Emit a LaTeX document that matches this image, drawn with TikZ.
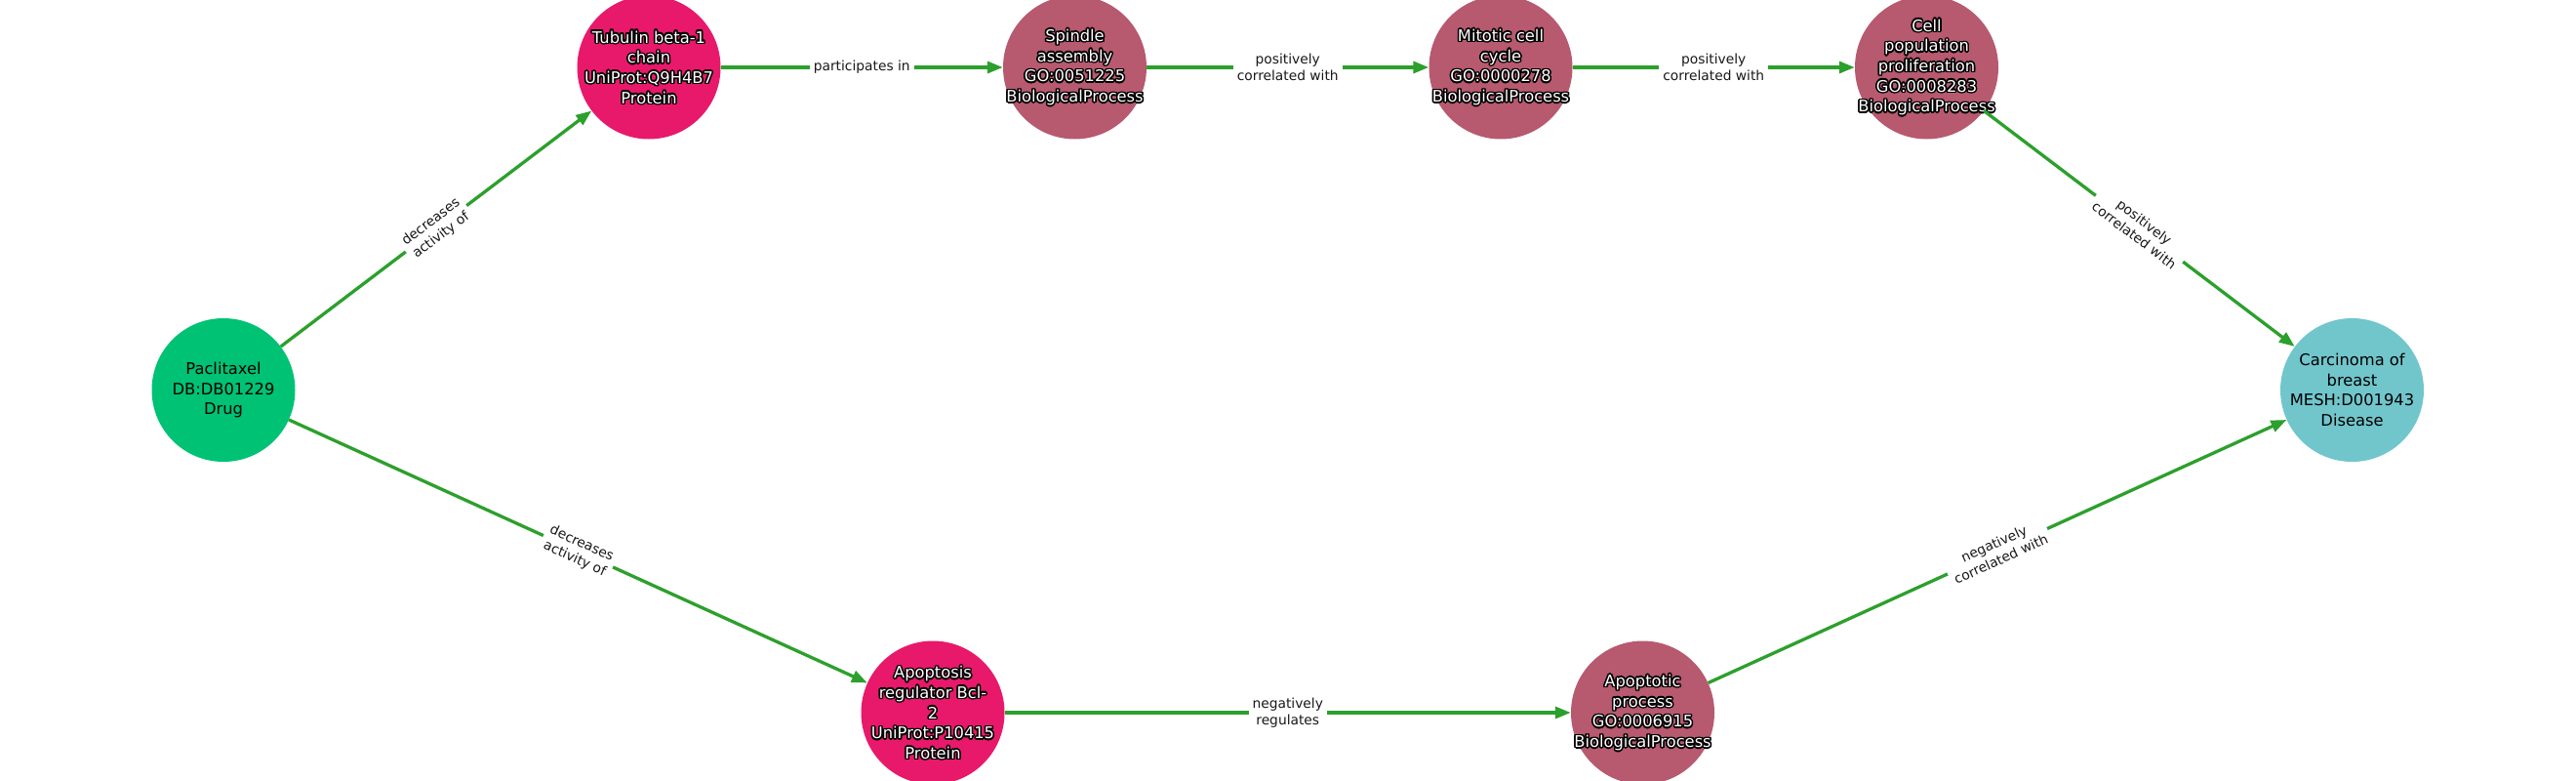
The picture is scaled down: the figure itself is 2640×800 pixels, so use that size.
\documentclass[tikz,border=0pt]{standalone}
\usepackage{fontspec}
\setmainfont{DejaVu Sans}
\usetikzlibrary{arrows.meta,calc}
\definecolor{drugc}{HTML}{00C274}
\definecolor{protc}{HTML}{E8196A}
\definecolor{bpc}{HTML}{B7596F}
\definecolor{disc}{HTML}{71C6CC}
\definecolor{edgec}{HTML}{2CA02C}
\tikzset{
  ent/.style={circle, minimum size=147pt, inner sep=0pt, draw=none},
  drug/.style={ent, fill=drugc},
  prot/.style={ent, fill=protc},
  bproc/.style={ent, fill=bpc},
  dis/.style={ent, fill=disc},
  ntext/.style={align=center, font=\fontsize{16.3}{20.7}\selectfont, inner sep=0pt},
  rel/.style={draw=edgec, line width=3.3pt, -{Triangle[length=16pt,width=12pt]}},
  elabel/.style={fill=white, inner sep=4pt, align=center, font=\fontsize{13.8}{17.2}\selectfont, text=black!90},
}
\newcommand\olabel[2]{%
  \foreach \a in {0,22.5,...,337.5}{\node[ntext,text=black] at ($(#1)+(\a:1.5)$) {#2};}
  \node[ntext,text=white] at (#1) {#2};}
\begin{document}
\begin{tikzpicture}[x=1pt,y=-1pt]
\useasboundingbox (0,0) rectangle (2640,800);
\clip (0,0) rectangle (2640,800);
% nodes
\node[drug] (pac) at (229,399.5) {};
\node[ntext] at (pac) {Paclitaxel\\DB:DB01229\\Drug};
\node[prot] (tub) at (665,69) {};
\node[bproc] (spi) at (1101.5,69) {};
\node[bproc] (mit) at (1538,69) {};
\node[bproc] (cel) at (1974.5,69) {};
\node[dis] (car) at (2410.5,399.5) {};
\node[ntext] at (car) {Carcinoma of\\breast\\MESH:D001943\\Disease};
\node[prot] (bcl) at (956,730) {};
\node[bproc] (apo) at (1683.5,730) {};
% outlined labels
\olabel{tub}{Tubulin beta-1\\chain\\UniProt:Q9H4B7\\Protein}
\olabel{spi}{Spindle\\assembly\\GO:0051225\\BiologicalProcess}
\olabel{mit}{Mitotic cell\\cycle\\GO:0000278\\BiologicalProcess}
\olabel{cel}{Cell\\population\\proliferation\\GO:0008283\\BiologicalProcess}
\olabel{bcl}{Apoptosis\\regulator Bcl-\\2\\UniProt:P10415\\Protein}
\olabel{apo}{Apoptotic\\process\\GO:0006915\\BiologicalProcess}
% edges
\draw[rel] (pac) -- node[elabel, sloped] {decreases\\activity of} (tub);
\draw[rel] (tub) -- node[elabel] {participates in} (spi);
\draw[rel] (spi) -- node[elabel] {positively\\correlated with} (mit);
\draw[rel] (mit) -- node[elabel] {positively\\correlated with} (cel);
\draw[rel] (cel) -- node[elabel, sloped] {positively\\correlated with} (car);
\draw[rel] (pac) -- node[elabel, sloped] {decreases\\activity of} (bcl);
\draw[rel] (bcl) -- node[elabel] {negatively\\regulates} (apo);
\draw[rel] (apo) -- node[elabel, sloped] {negatively\\correlated with} (car);
\end{tikzpicture}
\end{document}
